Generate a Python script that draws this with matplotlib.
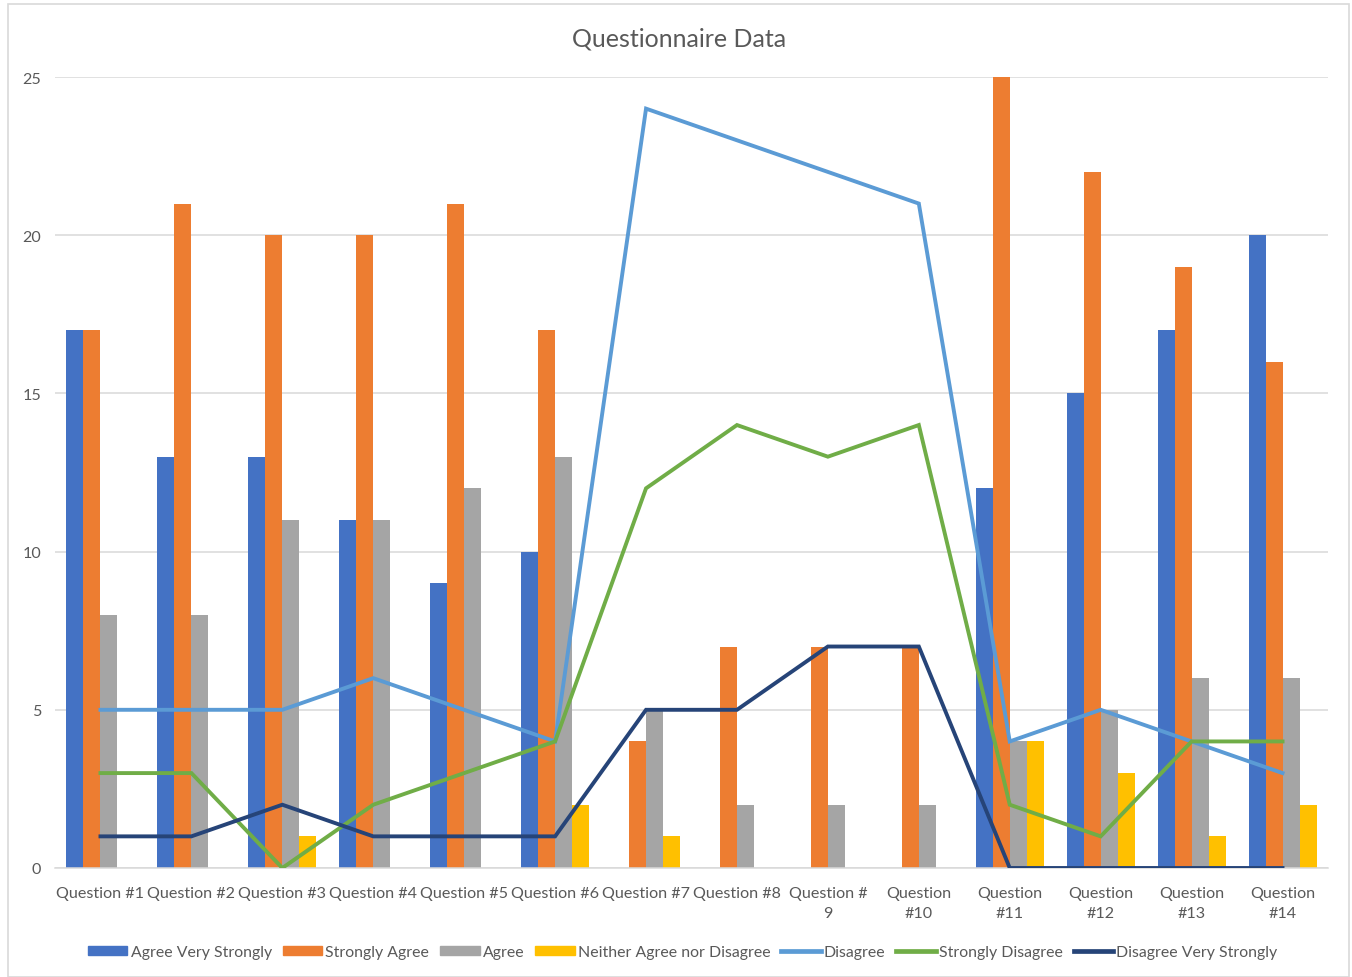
import matplotlib
matplotlib.use("Agg")
import matplotlib.pyplot as plt
import numpy as np
from matplotlib.patches import Rectangle
from matplotlib.lines import Line2D

plt.rcParams['font.family'] = ['Lato', 'DejaVu Sans']

categories = ["Question #1", "Question #2", "Question #3", "Question #4", "Question #5",
              "Question #6", "Question #7", "Question #8", "Question #\n9", "Question\n#10",
              "Question\n#11", "Question\n#12", "Question\n#13", "Question\n#14"]

agree_very_strongly = [17, 13, 13, 11, 9, 10, 0, 0, 0, 0, 12, 15, 17, 20]
strongly_agree = [17, 21, 20, 20, 21, 17, 4, 7, 7, 7, 25, 22, 19, 16]
agree = [8, 8, 11, 11, 12, 13, 5, 2, 2, 2, 4, 5, 6, 6]
neither = [0, 0, 1, 0, 0, 2, 1, 0, 0, 0, 4, 3, 1, 2]
disagree = [5, 5, 5, 6, 5, 4, 24, 23, 22, 21, 4, 5, 4, 3]
strongly_disagree = [3, 3, 0, 2, 3, 4, 12, 14, 13, 14, 2, 1, 4, 4]
disagree_very_strongly = [1, 1, 2, 1, 1, 1, 5, 5, 7, 7, 0, 0, 0, 0]

bar_series = [
    ("Agree Very Strongly", agree_very_strongly, "#4472C4"),
    ("Strongly Agree", strongly_agree, "#ED7D31"),
    ("Agree", agree, "#A5A5A5"),
    ("Neither Agree nor Disagree", neither, "#FFC000"),
]
line_series = [
    ("Disagree", disagree, "#5B9BD5"),
    ("Strongly Disagree", strongly_disagree, "#70AD47"),
    ("Disagree Very Strongly", disagree_very_strongly, "#264478"),
]

W, H = 1352, 978
fig = plt.figure(figsize=(W / 100, H / 100), dpi=100)
fig.patch.set_facecolor("white")

# chart-area border
fig.patches.append(Rectangle((8 / W, 0.0), (1349 - 8) / W, 1 - 5 / H,
                             transform=fig.transFigure, fill=False,
                             edgecolor="#D9D9D9", linewidth=1.2))

ax = fig.add_axes([55 / W, 1 - 869 / H, (1328 - 55) / W, (869 - 78) / H])
x = np.arange(len(categories))
bw = 0.187

handles = []
for i, (name, vals, col) in enumerate(bar_series):
    ax.bar(x + (i - 1.5) * bw, vals, width=bw, color=col, zorder=2)
    handles.append(Rectangle((0, 0), 1, 1, color=col, label=name))

for name, vals, col in line_series:
    ax.plot(x, vals, color=col, linewidth=2.8, zorder=3, solid_joinstyle="miter")
    handles.append(Line2D([], [], color=col, linewidth=3.4, label=name))

ax.set_xlim(-0.5, len(categories) - 0.5)
ax.set_ylim(0, 25)
ax.set_yticks([0, 5, 10, 15, 20, 25])
ax.yaxis.grid(True, color="#D9D9D9", linewidth=1.1, zorder=0)
ax.set_axisbelow(True)
for s in ["top", "right", "left"]:
    ax.spines[s].set_visible(False)
ax.spines["bottom"].set_color("#D9D9D9")
ax.spines["bottom"].set_linewidth(1.1)
ax.set_xticks(x)
ax.set_xticklabels(categories, fontsize=11.6, color="#595959", linespacing=1.5)
ax.tick_params(axis="x", length=0, pad=13)
ax.tick_params(axis="y", length=0, pad=10, labelsize=11.6, labelcolor="#595959")

fig.text(0.5025, 1 - 39 / H, "Questionnaire Data", ha="center", va="center",
         fontsize=18, color="#595959")

leg = fig.legend(handles=handles, loc="center", bbox_to_anchor=(0.505, 1 - 953 / H),
                 ncol=7, frameon=False, fontsize=11.4, handlelength=2.5,
                 handleheight=0.55, handletextpad=0.2, columnspacing=0.68)
for t in leg.get_texts():
    t.set_color("#595959")

fig.savefig("out.png", dpi=100, facecolor="white")
